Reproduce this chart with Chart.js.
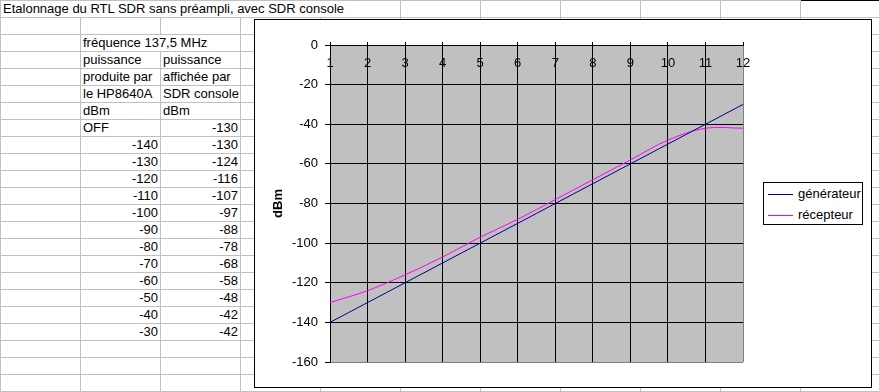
<!DOCTYPE html>
<html>
<head>
  <meta charset="utf-8">
  <title>Etalonnage du RTL SDR sans préampli</title>
  <script src="https://cdn.jsdelivr.net/npm/chart.js"></script>
  <style>
    html, body { margin: 0; padding: 0; overflow: hidden; background: #fff; }
    body { font: 13px "Liberation Sans", Arial, sans-serif; color: #000; }
    #feuille { position: absolute; left: 0; top: 0; display: grid; grid-template-columns: repeat(11, 80px); grid-template-rows: 18px; grid-auto-rows: 17px; border-left: 1px solid #c0c0c0; }
    #feuille div { box-sizing: border-box; border-right: 1px solid #c0c0c0; border-bottom: 1px solid #c0c0c0; padding: 0 2px; line-height: 16px; white-space: nowrap; overflow: hidden; }
    #feuille div.l1 { border-top: 1px solid #c0c0c0; }
    #feuille div.noir { border-top-color: #000; }
    #feuille div.nb { text-align: right; }
    #graphe { position: absolute; left: 254px; top: 19px; width: 618px; height: 369px; box-sizing: border-box; border: 1px solid #000; background: #fff; }
    #courbe { display: block; }
    #legende { position: absolute; left: 508px; top: 162px; width: 100px; height: 43px; box-sizing: border-box; border: 1px solid #000; padding-left: 4px; background: #fff; }
    #legende div { height: 21px; line-height: 21px; white-space: nowrap; }
    #legende span.trait { display: inline-block; width: 25px; height: 0; border-top: 1px solid; vertical-align: middle; margin-right: 5px; }
  </style>
</head>
<body>
  <div id="feuille"></div>
  <div id="graphe">
    <canvas id="courbe" width="616" height="367"></canvas>
    <div id="legende"></div>
  </div>

  <script>
    // mesures relevées
    var categories = ["1", "2", "3", "4", "5", "6", "7", "8", "9", "10", "11", "12"];
    var generateur = [-140, -130, -120, -110, -100, -90, -80, -70, -60, -50, -40, -30];
    var recepteur = [-130, -124, -116, -107, -97, -88, -78, -68, -58, -48, -42, -42];
    var recepteurOff = -130;
    var nomsSeries = ["générateur", "récepteur"];
    var couleurs = ["#000080", "#ff00ff"];

    // la feuille excel
    var feuille = document.getElementById("feuille");
    var NB_COL = 11, NB_LIGNES = 23;

    function cellule(texte, opts) {
      var d = document.createElement("div");
      opts = opts || {};
      if (texte !== undefined) d.textContent = texte;
      if (opts.span) d.style.gridColumn = "span " + opts.span;
      if (opts.nb) d.className += " nb";
      if (opts.l1) d.className += " l1";
      if (opts.noir) d.className += " noir";
      feuille.appendChild(d);
    }

    function ligne(cells) {
      var n = 0;
      cells.forEach(function (c) { cellule(c.t, c); n += c.span || 1; });
      for (; n < NB_COL; n++) cellule();
    }

    // ligne 1 : titre
    cellule("Etalonnage du RTL SDR sans préampli, avec SDR console", { span: 5, l1: true });
    for (var k = 5; k < NB_COL; k++) cellule(undefined, { l1: true, noir: k === 10 });

    ligne([]);
    ligne([{}, { t: "fréquence 137,5 MHz", span: 2 }]);
    ligne([{}, { t: "puissance" }, { t: "puissance" }]);
    ligne([{}, { t: "produite par" }, { t: "affichée par" }]);
    ligne([{}, { t: "le HP8640A" }, { t: "SDR console" }]);
    ligne([{}, { t: "dBm" }, { t: "dBm" }]);
    ligne([{}, { t: "OFF" }, { t: String(recepteurOff), nb: true }]);
    for (var i = 0; i < generateur.length; i++) {
      ligne([{}, { t: String(generateur[i]), nb: true }, { t: String(recepteur[i]), nb: true }]);
    }
    for (var r = 9 + generateur.length; r <= NB_LIGNES; r++) ligne([]);

    // le graphique
    Chart.defaults.font.family = '"Liberation Sans", Arial, sans-serif';
    Chart.defaults.font.size = 13;
    Chart.defaults.color = "#000";

    var fondGris = {
      id: "fondGris",
      beforeDraw: function (chart) {
        var a = chart.chartArea, ctx = chart.ctx;
        ctx.save();
        ctx.fillStyle = "#c0c0c0";
        ctx.fillRect(a.left, a.top, a.right - a.left, a.bottom - a.top);
        ctx.restore();
      }
    };

    var ctx = document.getElementById("courbe").getContext("2d");
    var graphe = new Chart(ctx, {
      type: "line",
      data: {
        labels: categories,
        datasets: [{
          label: nomsSeries[0],
          data: generateur,
          borderColor: couleurs[0],
          backgroundColor: couleurs[0],
          borderWidth: 1,
          pointRadius: 0,
          tension: 0.33,
          fill: false
        }, {
          label: nomsSeries[1],
          data: recepteur,
          borderColor: couleurs[1],
          backgroundColor: couleurs[1],
          borderWidth: 1,
          pointRadius: 0,
          tension: 0.33,
          fill: false
        }]
      },
      options: {
        responsive: false,
        animation: false,
        layout: { padding: { left: 12, top: 0, right: 128, bottom: 25 } },
        scales: {
          x: {
            position: "top",
            offset: false,
            grid: {
              color: function (c) { return c.index === categories.length - 1 ? "#808080" : "#000"; },
              tickColor: "#000",
              tickLength: 3
            },
            border: { color: "#000" },
            ticks: { mirror: true, padding: 11, autoSkip: false, maxRotation: 0 },
            afterFit: function (s) { s.height = 25; }
          },
          y: {
            min: -160,
            max: 0,
            grid: {
              color: function (c) { return c.index === 0 ? "#808080" : "#000"; },
              tickColor: "#000",
              tickLength: 5
            },
            border: { color: "#000" },
            ticks: { stepSize: 20, padding: 7 },
            title: { display: true, text: "dBm", font: { weight: "bold" }, padding: { top: 4, bottom: 4 } },
            afterFit: function (s) { s.width = 63; }
          }
        },
        plugins: {
          legend: { display: false },
          tooltip: { enabled: false }
        }
      },
      plugins: [fondGris]
    });

    // légende à part, dans son cadre
    var legende = document.getElementById("legende");
    graphe.data.datasets.forEach(function (ds) {
      var d = document.createElement("div");
      var t = document.createElement("span");
      t.className = "trait";
      t.style.borderTopColor = ds.borderColor;
      d.appendChild(t);
      d.appendChild(document.createTextNode(ds.label));
      legende.appendChild(d);
    });
  </script>
</body>
</html>
